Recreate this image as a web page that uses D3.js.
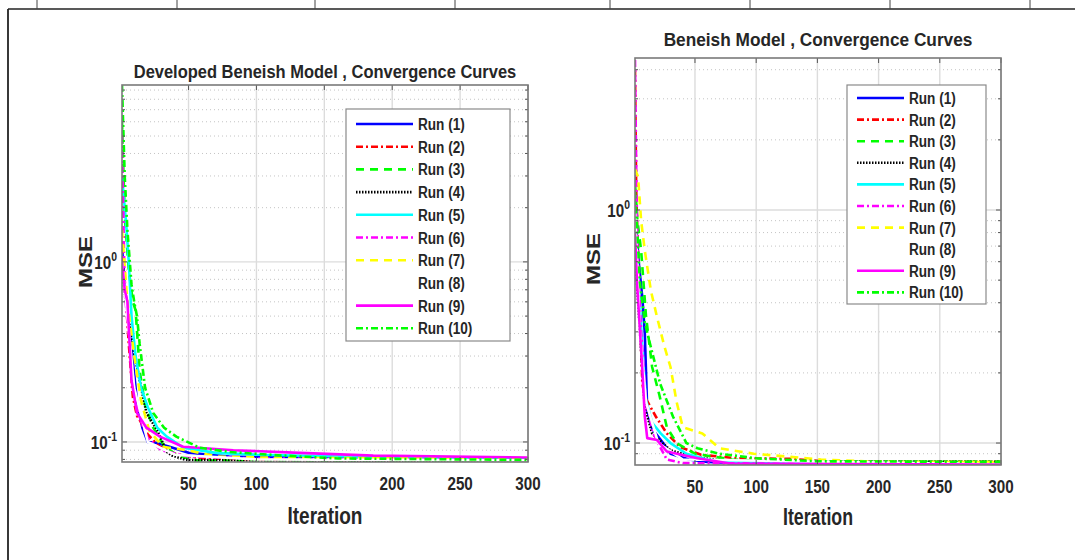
<!DOCTYPE html>
<html>
<head>
<meta charset="utf-8">
<script src="https://cdn.jsdelivr.net/npm/d3@7"></script>
<style>
body { margin: 0; background: #fff; }
svg { display: block; }
text { font-family: "Liberation Sans", Arial, sans-serif; font-weight: bold; fill: #262626; }
</style>
</head>
<body>
<svg id="vis" width="1075" height="560"></svg>
<script>
var runNames = ['Run (1)', 'Run (2)', 'Run (3)', 'Run (4)', 'Run (5)',
                'Run (6)', 'Run (7)', 'Run (8)', 'Run (9)', 'Run (10)'];
var xTicks = [50, 100, 150, 200, 250, 300];
var yMajor = [0.1, 1];
var yMajorExp = ['-1', '0'];

// developed model, [iteration, MSE]
var devRun1 = [[1,1.2],[3,0.75],[6,0.45],[9,0.28],[12,0.17],[16,0.12],[20,0.1],[26,0.099],[36,0.094],[50,0.087],[80,0.083],[150,0.0815],[300,0.0805]];
var devRun2 = [[1,1.3],[3,0.79],[6,0.35],[9,0.178],[12,0.14],[16,0.125],[20,0.11],[28,0.095],[40,0.086],[60,0.081],[120,0.0795],[300,0.0785]];
var devRun3 = [[1,6.0],[3,1.8],[6,0.9],[9,0.6],[11,0.54],[14,0.25],[18,0.16],[24,0.12],[32,0.095],[42,0.084],[55,0.079],[300,0.0782]];
var devRun4 = [[1,0.9],[4,0.6],[7,0.42],[10,0.31],[14,0.22],[19,0.145],[27,0.116],[34,0.088],[38,0.084],[48,0.0795],[100,0.079],[300,0.0785]];
var devRun5 = [[1,3.0],[4,1.65],[6,1.0],[8,0.5],[11,0.3],[15,0.2],[20,0.156],[27,0.12],[34,0.107],[46,0.093],[70,0.087],[100,0.085],[200,0.082],[300,0.081]];
var devRun6 = [[1,5.0],[3,0.67],[6,0.4],[10,0.2],[15,0.13],[20,0.105],[30,0.09],[50,0.083],[100,0.081],[300,0.0795]];
var devRun7 = [[1,1.5],[5,0.6],[10,0.3],[15,0.17],[21,0.116],[31,0.094],[49,0.09],[71,0.083],[120,0.0815],[300,0.081]];
var devRun8 = [[1,1.0],[5,0.5],[10,0.2],[20,0.1],[40,0.085],[100,0.08],[300,0.079]];
var devRun9 = [[1,1.0],[3,0.7],[5,0.6],[8,0.22],[12,0.145],[19,0.12],[29,0.107],[46,0.094],[83,0.09],[132,0.087],[186,0.084],[300,0.082]];
var devRun10 = [[1,9.6],[3,3.0],[5,1.5],[8,0.75],[10,0.6],[12,0.5],[14,0.35],[18,0.2],[24,0.145],[32,0.12],[41,0.107],[58,0.093],[80,0.088],[120,0.084],[160,0.081],[300,0.0795]];

// original Beneish model, right plot
var benRun1 = [[1,1.0],[4,0.6],[7,0.42],[9,0.296],[11,0.138],[15,0.115],[24,0.1],[30,0.09],[45,0.085],[60,0.083],[100,0.0815],[300,0.081]];
var benRun2 = [[1,4.0],[2,1.2],[4,0.5],[7,0.18],[9,0.158],[18,0.13],[27,0.11],[38,0.096],[55,0.089],[85,0.086],[130,0.0855],[160,0.083],[300,0.083]];
var benRun3 = [[1,1.3],[3,0.9],[6,0.67],[10,0.35],[15,0.212],[21,0.16],[27,0.117],[35,0.1],[50,0.09],[80,0.085],[120,0.083],[300,0.083]];
var benRun4 = [[1,0.8],[2.6,0.49],[6,0.25],[9,0.143],[15,0.11],[30,0.093],[50,0.087],[80,0.083],[300,0.083]];
var benRun5 = [[1,0.9],[4,0.5],[7,0.25],[10,0.153],[15,0.122],[22,0.11],[30,0.1],[43,0.09],[60,0.085],[80,0.083],[300,0.0815]];
var benRun6 = [[1,4.4],[2,1.5],[3,0.67],[6,0.3],[10,0.15],[16,0.11],[22,0.095],[27,0.085],[40,0.082],[300,0.0808]];
var benRun7 = [[1,1.5],[3.5,1.39],[6,0.9],[9,0.67],[14,0.45],[19,0.347],[25,0.26],[30,0.212],[35,0.15],[40,0.117],[56,0.11],[70,0.095],[98,0.09],[153,0.085],[200,0.083],[300,0.0828]];
var benRun8 = [[1,1.0],[5,0.3],[10,0.15],[20,0.1],[40,0.085],[300,0.081]];
var benRun9 = [[1,0.8],[2.6,0.49],[6.7,0.22],[9,0.13],[11,0.105],[19,0.103],[27,0.092],[52,0.086],[80,0.0815],[300,0.0808]];
var benRun10 = [[1,1.2],[3,0.8],[5,0.49],[9,0.33],[13,0.27],[21.5,0.18],[32,0.13],[43,0.1],[52,0.095],[70,0.09],[100,0.086],[150,0.0835],[300,0.083]];

var devRuns = [devRun1, devRun2, devRun3, devRun4, devRun5, devRun6, devRun7, devRun8, devRun9, devRun10];
var benRuns = [benRun1, benRun2, benRun3, benRun4, benRun5, benRun6, benRun7, benRun8, benRun9, benRun10];

// matlab line specs for the 10 runs
var styles = [
    {c: '#0000ff', d: null},
    {c: '#ff0000', d: '7,3,2,3'},
    {c: '#00ff00', d: '8,6'},
    {c: '#000000', d: '1.5,1.5'},
    {c: '#00ffff', d: null},
    {c: '#ff00ff', d: '7,3,2,3'},
    {c: '#ffff00', d: '8,6'},
    {c: '#ffffff', d: null},
    {c: '#ff00ff', d: null},
    {c: '#00ff00', d: '7,3,2,3'}
];

var SX = 0.8; // text in the picture is squeezed sideways

var svg = d3.select('#vis');

// width: if given, squeeze the text to that many pixels instead of SX
function label(g, x, y, str, size, anchor, vertical, width) {
    var t = g.append('text')
        .attr('font-size', size)
        .attr('text-anchor', anchor || 'middle')
        .text(str);
    var s = SX;
    if (width) s = width / t.node().getComputedTextLength();
    var tr = 'translate(' + x + ',' + y + ')' + (vertical ? ' rotate(-90) scale(1,' + s + ')' : ' scale(' + s + ',1)');
    t.attr('transform', tr);
    return t;
}

// page frame (table border of the source document)
svg.append('line').attr('x1', 8).attr('x2', 1075).attr('y1', 9).attr('y2', 9)
    .attr('stroke', '#222').attr('stroke-width', 1.6);
svg.append('line').attr('x1', 8).attr('x2', 8).attr('y1', 9).attr('y2', 560)
    .attr('stroke', '#222').attr('stroke-width', 1.8);
[37, 177, 315, 455, 610, 750, 890, 1030].forEach(function (x) {
    svg.append('line').attr('x1', x).attr('x2', x).attr('y1', 0).attr('y2', 9)
        .attr('stroke', '#444').attr('stroke-width', 1);
});

function drawPanel(p) {
    var g = svg.append('g');
    var x = d3.scaleLinear().domain([1, 300]).range([p.x0, p.x1]);
    var y = d3.scaleLog().domain([p.yMin, p.yMax]).range([p.y1, p.y0]);
    var minor = y.ticks().filter(function (v) { return yMajor.indexOf(v) < 0; });

    g.append('rect').attr('x', p.x0).attr('y', p.y0)
        .attr('width', p.x1 - p.x0).attr('height', p.y1 - p.y0).attr('fill', '#fff');

    // grid
    g.selectAll('.ymin').data(minor).enter().append('line')
        .attr('x1', p.x0).attr('x2', p.x1)
        .attr('y1', function (d) { return y(d); }).attr('y2', function (d) { return y(d); })
        .attr('stroke', '#c4c4c4').attr('stroke-width', 1).attr('stroke-dasharray', '1,3');
    g.selectAll('.ymaj').data(yMajor).enter().append('line')
        .attr('x1', p.x0).attr('x2', p.x1)
        .attr('y1', function (d) { return y(d); }).attr('y2', function (d) { return y(d); })
        .attr('stroke', '#dcdcdc').attr('stroke-width', 1.4);
    g.selectAll('.xmaj').data(xTicks).enter().append('line')
        .attr('x1', function (d) { return x(d); }).attr('x2', function (d) { return x(d); })
        .attr('y1', p.y0).attr('y2', p.y1)
        .attr('stroke', '#dcdcdc').attr('stroke-width', 1.4);

    // curves
    var line = d3.line()
        .x(function (d) { return x(d[0]); })
        .y(function (d) { return y(d[1]); });
    var clipId = 'clip' + p.id;
    g.append('clipPath').attr('id', clipId).append('rect')
        .attr('x', p.x0).attr('y', p.y0).attr('width', p.x1 - p.x0).attr('height', p.y1 - p.y0);
    var curves = g.append('g').attr('clip-path', 'url(#' + clipId + ')');
    p.runs.forEach(function (run, i) {
        curves.append('path').datum(run)
            .attr('d', line)
            .attr('fill', 'none')
            .attr('stroke', styles[i].c)
            .attr('stroke-width', 2.6)
            .attr('stroke-dasharray', styles[i].d)
            .attr('stroke-linejoin', 'round');
    });

    // ticks inside the box on all sides
    var tk = g.append('g').attr('stroke', '#555').attr('stroke-width', 1);
    xTicks.forEach(function (t) {
        tk.append('line').attr('x1', x(t)).attr('x2', x(t)).attr('y1', p.y1).attr('y2', p.y1 - 5);
        tk.append('line').attr('x1', x(t)).attr('x2', x(t)).attr('y1', p.y0).attr('y2', p.y0 + 5);
    });
    y.ticks().forEach(function (t) {
        var len = yMajor.indexOf(t) < 0 ? 3 : 5;
        tk.append('line').attr('x1', p.x0).attr('x2', p.x0 + len).attr('y1', y(t)).attr('y2', y(t));
        tk.append('line').attr('x1', p.x1).attr('x2', p.x1 - len).attr('y1', y(t)).attr('y2', y(t));
    });

    g.append('rect').attr('x', p.x0).attr('y', p.y0)
        .attr('width', p.x1 - p.x0).attr('height', p.y1 - p.y0)
        .attr('fill', 'none').attr('stroke', '#7a7a7a').attr('stroke-width', 1.6);

    // tick labels
    xTicks.forEach(function (t) {
        label(g, x(t), p.y1 + p.xLabDy, String(t), 19, 'middle');
    });
    yMajor.forEach(function (t, i) {
        var tx = g.append('text')
            .attr('transform', 'translate(' + (p.x0 - 5) + ',' + (y(t) + 7) + ') scale(' + SX + ',1)')
            .attr('font-size', 19).attr('text-anchor', 'end');
        tx.append('tspan').text('10');
        tx.append('tspan').attr('dy', -8).attr('font-size', 13).text(yMajorExp[i]);
    });

    label(g, p.titleX, p.titleY, p.title, 19, 'middle', false, p.titleW);
    label(g, (p.x0 + p.x1) / 2, p.y1 + p.xTitleDy, 'Iteration', 23, 'middle', false, p.xTitleW);
    label(g, p.yTitleX, p.yTitleY, 'MSE', 24, 'middle', true);

    // legend
    var lg = g.append('g');
    lg.append('rect').attr('x', p.lx).attr('y', p.ly).attr('width', p.lw).attr('height', p.lh)
        .attr('fill', '#fff').attr('stroke', '#8a8a8a').attr('stroke-width', 1.2);
    runNames.forEach(function (name, i) {
        var ry = p.ly + p.lpad + i * p.lstep;
        lg.append('line').attr('x1', p.lx + 10).attr('x2', p.lx + 10 + p.lline)
            .attr('y1', ry).attr('y2', ry)
            .attr('stroke', styles[i].c).attr('stroke-width', 2.6)
            .attr('stroke-dasharray', styles[i].d);
        label(lg, p.lx + 15 + p.lline, ry + 6, name, 17, 'start');
    });
}

drawPanel({
    id: 'a', runs: devRuns, title: 'Developed Beneish Model , Convergence Curves',
    x0: 122, x1: 528, y0: 85, y1: 462, yMin: 0.0774, yMax: 9.6,
    titleX: 325, titleY: 78, titleW: 383, xLabDy: 28, xTitleDy: 62, xTitleW: 75,
    yTitleX: 92, yTitleY: 262,
    lx: 346, ly: 109, lw: 164, lh: 232, lpad: 15, lstep: 22.7, lline: 57
});
drawPanel({
    id: 'b', runs: benRuns, title: 'Beneish Model , Convergence Curves',
    x0: 635, x1: 1001, y0: 58, y1: 465, yMin: 0.0805, yMax: 4.49,
    titleX: 818, titleY: 46, titleW: 309, xLabDy: 28, xTitleDy: 60, xTitleW: 70,
    yTitleX: 600, yTitleY: 259,
    lx: 847, ly: 85, lw: 139, lh: 219, lpad: 13, lstep: 21.6, lline: 47
});
</script>
</body>
</html>
